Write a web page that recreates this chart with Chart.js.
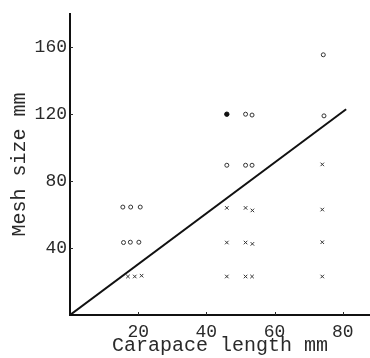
<!DOCTYPE html>
<html lang="en">
<head>
    <meta charset="UTF-8">
    <title>Mesh size vs carapace length</title>
    <script src="https://cdn.jsdelivr.net/npm/chart.js@4.4.1/dist/chart.umd.min.js"></script>
    <style>
        html, body { margin: 0; padding: 0; background: #fff; }
        #wrap { width: 370px; height: 358px; }
    </style>
</head>
<body>
    <div id="wrap"><canvas id="chart" width="370" height="358"></canvas></div>
    <script>
        // values
        const xTicks = [20, 40, 60, 80];
        const yTicks = [40, 80, 120, 160];

        // open circles
        const circleX = [15.5, 17.8, 20.6, 15.7, 17.7, 20.2, 46, 51.5, 53.4, 51.5, 53.4, 74.3, 74.5];
        const circleY = [64.5, 64.5, 64.5, 43.3, 43.5, 43.5, 89.5, 120, 119.5, 89.5, 89.5, 155.5, 119];
        // filled dot
        const dotX = [46];
        const dotY = [120];
        // crosses
        const crossX = [17, 19, 21, 46, 51.5, 53.4, 46, 51.5, 53.5, 46, 51.5, 53.5, 74, 74, 74, 74];
        const crossY = [23, 23, 23.5, 23, 23, 23, 64, 64, 62.5, 43.3, 43.3, 42.5, 90, 63, 43.5, 23];
        // fitted line
        const lineX = [0, 81];
        const lineY = [0, 123];

        const pts = (xs, ys) => xs.map((x, i) => ({ x: x, y: ys[i] }));

        const monoFont = 'Liberation Mono';
        const ink = '#2a2a2a';

        // small tick marks drawn inside the axes
        const innerTicks = {
            id: 'innerTicks',
            afterDraw(chart) {
                const ctx = chart.ctx;
                const xs = chart.scales.x, ys = chart.scales.y;
                ctx.save();
                ctx.strokeStyle = ink;
                ctx.lineWidth = 1;
                xTicks.forEach(v => {
                    const px = Math.round(xs.getPixelForValue(v)) + 0.5;
                    ctx.beginPath();
                    ctx.moveTo(px, ys.bottom);
                    ctx.lineTo(px, ys.bottom - 3);
                    ctx.stroke();
                });
                yTicks.forEach(v => {
                    const py = Math.round(ys.getPixelForValue(v)) + 0.5;
                    ctx.beginPath();
                    ctx.moveTo(xs.left, py);
                    ctx.lineTo(xs.left + 3, py);
                    ctx.stroke();
                });
                ctx.restore();
            }
        };

        const ctx = document.getElementById('chart').getContext('2d');
        new Chart(ctx, {
            type: 'scatter',
            data: {
                datasets: [
                    {
                        type: 'line',
                        data: pts(lineX, lineY),
                        borderColor: '#111',
                        borderWidth: 2,
                        pointRadius: 0,
                        fill: false
                    },
                    {
                        data: pts(circleX, circleY),
                        pointStyle: 'circle',
                        pointRadius: 2,
                        borderWidth: 1,
                        borderColor: '#333',
                        backgroundColor: '#fff'
                    },
                    {
                        data: pts(dotX, dotY),
                        pointStyle: 'circle',
                        pointRadius: 2.2,
                        borderWidth: 1,
                        borderColor: '#111',
                        backgroundColor: '#111'
                    },
                    {
                        data: pts(crossX, crossY),
                        pointStyle: 'crossRot',
                        pointRadius: 2.5,
                        borderWidth: 1,
                        borderColor: '#333'
                    }
                ]
            },
            options: {
                responsive: false,
                animation: false,
                layout: { autoPadding: false, padding: { top: 12, right: 0, left: 0, bottom: 0 } },
                plugins: { legend: { display: false }, tooltip: { enabled: false } },
                scales: {
                    x: {
                        type: 'linear',
                        min: 0,
                        max: 88,
                        afterBuildTicks: s => { s.ticks = xTicks.map(v => ({ value: v })); },
                        afterFit: s => { s.height = 43; },
                        grid: { display: true, drawOnChartArea: false, drawTicks: false },
                        border: { display: true, color: '#111', width: 2 },
                        ticks: {
                            color: ink,
                            padding: 6,
                            maxRotation: 0,
                            font: { family: monoFont, size: 18 }
                        },
                        title: {
                            display: true,
                            text: 'Carapace length mm',
                            color: ink,
                            padding: { top: -2, bottom: 0 },
                            font: { family: monoFont, size: 20 }
                        }
                    },
                    y: {
                        type: 'linear',
                        min: 0,
                        max: 180,
                        afterBuildTicks: s => { s.ticks = yTicks.map(v => ({ value: v })); },
                        afterFit: s => { s.width = 70; },
                        grid: { display: true, drawOnChartArea: false, drawTicks: false },
                        border: { display: true, color: '#111', width: 2 },
                        ticks: {
                            color: ink,
                            padding: 3,
                            font: { family: monoFont, size: 18 }
                        },
                        title: {
                            display: true,
                            text: 'Mesh size mm',
                            color: ink,
                            padding: { top: 8, bottom: 0 },
                            font: { family: monoFont, size: 20 }
                        }
                    }
                }
            },
            plugins: [innerTicks]
        });
    </script>
</body>
</html>
